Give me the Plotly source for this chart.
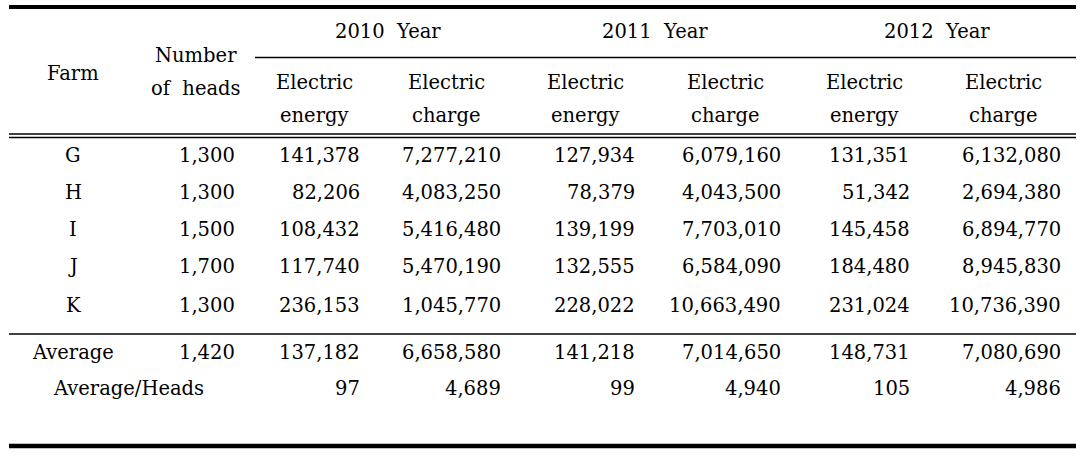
import plotly.graph_objects as go

farms = ["G", "H", "I", "J", "K"]
heads = [1300, 1300, 1500, 1700, 1300]
years = ["2010", "2011", "2012"]
energy_2010 = [141378, 82206, 108432, 117740, 236153]
charge_2010 = [7277210, 4083250, 5416480, 5470190, 1045770]
energy_2011 = [127934, 78379, 139199, 132555, 228022]
charge_2011 = [6079160, 4043500, 7703010, 6584090, 10663490]
energy_2012 = [131351, 51342, 145458, 184480, 231024]
charge_2012 = [6132080, 2694380, 6894770, 8945830, 10736390]
avg_heads = 1420
avg_values = [137182, 6658580, 141218, 7014650, 148731, 7080690]
per_head_values = [97, 4689, 99, 4940, 105, 4986]

FONT = dict(family="DejaVu Serif", size=19.5, color="black")

# layout positions (pixels)
year_cx = [388, 655, 937]
sub_cx = [314, 446, 585, 725, 864, 1003]
num_right = [362, 503, 637, 783, 912, 1063]
row_y = [155, 192, 229, 266, 305]
avg_y = 352
per_y = 388
farm_cx = 73
heads_cx = 196
heads_right = 237

fig = go.Figure()
ann = []


def txt(x, y, s, anchor="center"):
    ann.append(dict(x=x, y=y, text=s, xref="x", yref="y", showarrow=False,
                    xanchor=anchor, yanchor="middle", font=FONT))


def fmt(v):
    return f"{v:,}"


# header
txt(farm_cx, 73, "Farm")
txt(heads_cx, 55, "Number")
txt(heads_cx, 88, "of\u00a0 heads")
for cx, y in zip(year_cx, years):
    txt(cx, 31, f"{y}\u00a0 Year")
for i, cx in enumerate(sub_cx):
    txt(cx, 82, "Electric")
    txt(cx, 115, "energy" if i % 2 == 0 else "charge")

# body
cols = [energy_2010, charge_2010, energy_2011, charge_2011, energy_2012, charge_2012]
for r, y in enumerate(row_y):
    txt(farm_cx, y, farms[r])
    txt(heads_right, y, fmt(heads[r]), "right")
    for c, xr in enumerate(num_right):
        txt(xr, y, fmt(cols[c][r]), "right")

txt(farm_cx, avg_y, "Average")
txt(heads_right, avg_y, fmt(avg_heads), "right")
for c, xr in enumerate(num_right):
    txt(xr, avg_y, fmt(avg_values[c]), "right")

txt(128, per_y, "Average/Heads")
for c, xr in enumerate(num_right):
    txt(xr, per_y, fmt(per_head_values[c]), "right")

# rules
x0, x1 = 9, 1076


def hline(y, w, xa=x0, xb=x1):
    return dict(type="line", xref="x", yref="y", x0=xa, x1=xb, y0=y, y1=y,
                line=dict(color="black", width=w))


shapes = [
    hline(7, 4),
    hline(57.5, 1.5, 255, x1),
    hline(134, 1.3),
    hline(137.5, 1.3),
    hline(334, 1.5),
    hline(446, 4.5),
]

fig.update_layout(
    width=1085, height=460,
    margin=dict(l=0, r=0, t=0, b=0),
    paper_bgcolor="white", plot_bgcolor="white",
    xaxis=dict(range=[0, 1085], visible=False, fixedrange=True),
    yaxis=dict(range=[460, 0], visible=False, fixedrange=True),
    annotations=ann, shapes=shapes, showlegend=False,
)
fig.write_html("out.html", config={"displayModeBar": False},
               post_script="document.body.style.margin='0';")
